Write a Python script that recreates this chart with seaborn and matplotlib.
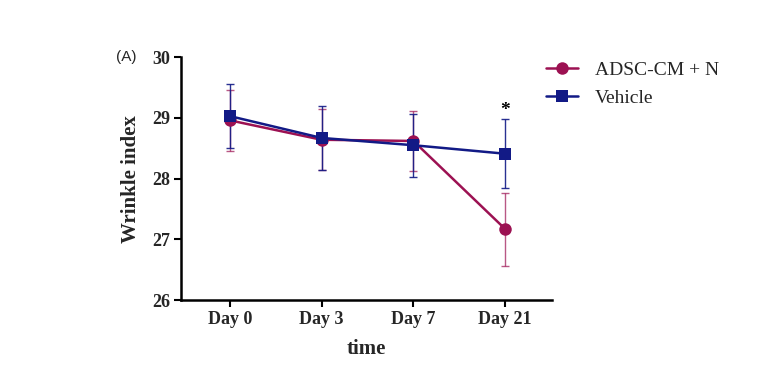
import matplotlib
matplotlib.use('Agg')
import matplotlib.pyplot as plt
import numpy as np
import pandas as pd
import seaborn as sns

days = ['Day 0', 'Day 3', 'Day 7', 'Day 21']
adsc_mean = [28.96, 28.64, 28.62, 27.17]
adsc_sd = [0.50, 0.50, 0.50, 0.60]
vehicle_mean = [29.03, 28.67, 28.55, 28.41]
vehicle_sd = [0.52, 0.52, 0.52, 0.57]

col_adsc = '#9c1152'
col_veh = '#121a86'

sns.set_style('ticks')
plt.rcParams['font.family'] = ['Liberation Serif', 'DejaVu Serif']

df = pd.DataFrame({
    'pos': list(range(len(days))) * 2,
    'mean': adsc_mean + vehicle_mean,
    'sd': adsc_sd + vehicle_sd,
    'group': ['ADSC-CM + N'] * len(days) + ['Vehicle'] * len(days),
})

fig = plt.figure(figsize=(7.72, 3.71), dpi=100)
ax = fig.add_axes([0.2345, 0.191, 0.4806, 0.655])

for grp, colr, al in [('ADSC-CM + N', col_adsc, 0.7), ('Vehicle', col_veh, 0.9)]:
    sub = df[df['group'] == grp]
    ax.errorbar(sub['pos'], sub['mean'], yerr=sub['sd'], fmt='none',
                ecolor=colr, elinewidth=1.0, capsize=3, capthick=1.0,
                alpha=al, zorder=2)

sns.lineplot(data=df, x='pos', y='mean', hue='group', style='group',
             markers={'ADSC-CM + N': 'o', 'Vehicle': 's'}, dashes=False,
             palette={'ADSC-CM + N': col_adsc, 'Vehicle': col_veh},
             markersize=9, markeredgewidth=0, linewidth=1.8, ax=ax, zorder=3)

ax.text(3, 29.12, '*', ha='center', va='center', fontsize=14,
        fontweight='bold', color='black')

ax.set_xlim(-0.53, 3.51)
ax.set_ylim(26, 30)
ax.set_xticks(range(len(days)))
ax.set_xticklabels(days, fontsize=13, fontweight='bold')
ax.set_yticks([26, 27, 28, 29, 30])
ax.set_yticklabels(['26', '27', '28', '29', '30'], fontsize=13, fontweight='bold')
ax.tick_params(axis='both', direction='out', length=5, width=1.5, color='black', pad=3)
for s in ['left', 'bottom']:
    ax.spines[s].set_linewidth(1.8)
    ax.spines[s].set_color('black')
sns.despine(ax=ax)

ax.set_xlabel('time', fontsize=15, fontweight='bold', labelpad=8)
ax.set_ylabel('Wrinkle index', fontsize=15, fontweight='bold', labelpad=8)

fig.text(0.150, 0.846, '(A)', fontsize=11, family=['Liberation Sans', 'DejaVu Sans'],
         ha='left', va='center')

handles, labels = ax.get_legend_handles_labels()
ax.legend(handles, labels, loc='upper left', bbox_to_anchor=(0.985, 0.983),
          frameon=False, fontsize=14, handlelength=1.6, handletextpad=0.9,
          labelspacing=0.55, borderpad=0, borderaxespad=0)

fig.savefig('out.png', dpi=100)
